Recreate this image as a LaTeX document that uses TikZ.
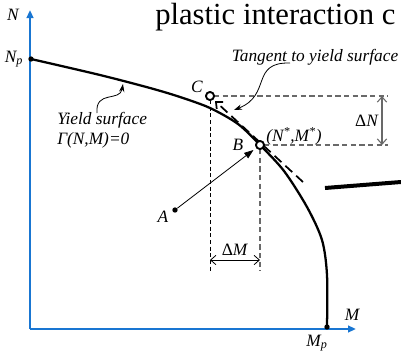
\documentclass[tikz,border=0pt]{standalone}
\usepackage{fontspec}
\setmainfont{Liberation Serif}
\usetikzlibrary{arrows.meta}
\definecolor{axisblue}{RGB}{25,118,210}
\definecolor{dgray}{RGB}{105,105,105}
\tikzset{barb/.tip={Straight Barb[length=4pt,width=7pt]}}
\begin{document}
\begin{tikzpicture}[x=0.75pt,y=-0.75pt,
  lab/.style={font=\fontsize{13}{15}\selectfont\itshape, inner sep=0pt},
  axis/.style={axisblue, line width=1.5pt},
  surf/.style={line width=1.7pt, line cap=round},
  guide/.style={dgray, line width=0.8pt, dash pattern=on 4pt off 2.5pt},
  guideb/.style={black, line width=0.6pt, dash pattern=on 3pt off 2pt},
  opencirc/.style={circle, draw, line width=1.3pt, fill=white, minimum size=6pt, inner sep=0pt},
  dotn/.style={circle, fill, minimum size=4pt, inner sep=0pt}]
\useasboundingbox (0,0) rectangle (401,354);
% title fragment
\node[anchor=base west, inner sep=0pt, font=\fontsize{23}{26}\selectfont] (title) at (155,24) {plastic interaction c};
% axes
\coordinate (O) at (30,329);
\coordinate (Ntip) at (30,10);
\coordinate (Mtip) at (356,329);
\draw[axis, -{Triangle[length=6pt,width=5pt]}] (O) -- (Ntip);
\draw[axis, -{Triangle[length=6pt,width=5pt]}] (O) -- (Mtip);
\node[lab] (Nlab) at (13,15) {N};
\node[lab] (Mlab) at (352,315) {M};
% yield surface
\node[dotn] (Np) at (31,59) {};
\node[dotn] (Mp) at (327,327) {};
\node[lab] (Nplab) at (14,59) {N\textsubscript{p}};
\node[lab] (Mplab) at (317,343) {M\textsubscript{p}};
\draw[surf] plot[smooth, tension=0.5] coordinates {(31,59) (100,75) (150,88) (180,97) (210,108) (238,124) (260,145) (284,171) (307,207) (322,240) (327,275) (327,327)};
% points
\node[dotn] (A) at (175,210) {};
\node[lab] (Alab) at (163,217) {A};
\node[lab] (Clab) at (197,87) {C};
\node[lab] (Blab) at (238,145) {B};
\node[lab, anchor=west] (NMlab) at (266,136) {(N\textsuperscript{*},M\textsuperscript{*})};
% guides
\coordinate (Cr) at (214,96);
\coordinate (Cd) at (210,100);
\coordinate (Br) at (264,145);
\coordinate (Bd) at (260,149);
\coordinate (hC) at (388,96);
\coordinate (hB) at (388,145);
\coordinate (vC) at (210,271);
\coordinate (vB) at (260,271);
\draw[guide] (Cr) -- (hC);
\draw[guide] (Br) -- (hB);
\draw[guideb] (Cd) -- (vC);
\draw[guide] (Bd) -- (vB);
% dimension arrows
\coordinate (dN1) at (382,96);
\coordinate (dN2) at (382,145);
\draw[dgray, line width=0.8pt, barb-barb] (dN1) -- (dN2);
\node[lab, font=\fontsize{13}{15}\selectfont] (dNlab) at (367,121) {Δ\textit{N}};
\coordinate (dM1) at (210,260);
\coordinate (dM2) at (260,260);
\draw[line width=0.6pt, barb-barb] (dM1) -- (dM2);
\node[lab, font=\fontsize{13}{15}\selectfont] (dMlab) at (235,250) {Δ\textit{M}};
% tangent
\node[opencirc] (C) at (210,96) {};
\node[opencirc] (B) at (260,145) {};
\coordinate (Tend) at (303,182);
\coordinate (Ttip) at (215,101);
\draw[line width=1.3pt, dash pattern=on 7pt off 4pt, -barb] (Tend) -- (Ttip);
\draw[line width=0.6pt, -{Triangle[length=7pt,width=5pt]}, shorten >=2.5pt] (A) -- (B);
\node[opencirc] at (210,96) {};
\node[opencirc] at (260,145) {};
% annotations
\node[lab] (tanlab) at (315,57) {Tangent to yield surface};
\coordinate (tanS) at (290,63);
\coordinate (tanE) at (234,110);
\draw[line width=0.6pt, -{Stealth[length=6pt,width=4pt]}] (tanS) .. controls (250,62) and (272,95) .. (tanE);
\node[lab, anchor=west] (ylab1) at (57,120) {Yield surface};
\node[lab, anchor=west] (ylab2) at (57,140) {Γ(N,M)=0};
\coordinate (yS) at (97,113);
\coordinate (yE) at (123,84);
\draw[line width=0.6pt, -{Stealth[length=6pt,width=4pt]}] (yS) .. controls (95,90) and (120,102) .. (yE);
% stray segment
\coordinate (s1) at (325,188);
\coordinate (s2) at (401,182);
\draw[line width=3pt] (s1) -- (s2);
\end{tikzpicture}
\end{document}
